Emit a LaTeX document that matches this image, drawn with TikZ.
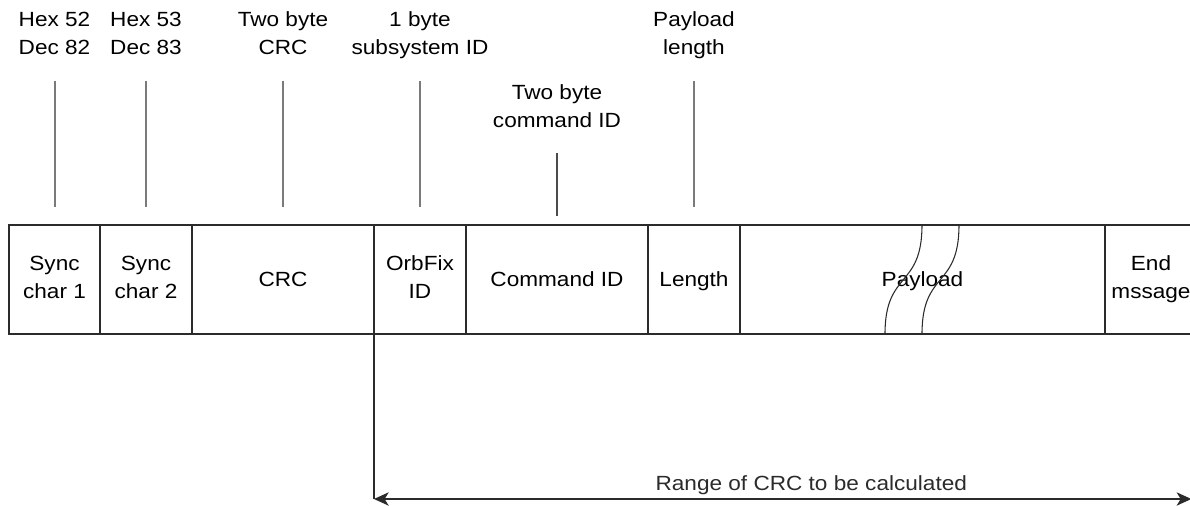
\documentclass[tikz,border=0pt]{standalone}
\usepackage{fontspec}
\setmainfont{Liberation Sans}[FakeStretch=1.1]
\usetikzlibrary{arrows.meta,positioning}
\definecolor{FrameLine}{HTML}{2B2B2B}
\definecolor{TickLine}{HTML}{7A7A7A}

\begin{document}
\begin{tikzpicture}[x=1pt,y=-1pt,node distance=0pt,font=\fontsize{15.4}{21}\selectfont]
    \tikzset{field/.style={draw=FrameLine,line width=1pt,minimum height=81.75pt,inner sep=0pt,
      outer sep=0pt,align=center,execute at begin node={\rule[-4pt]{0pt}{18pt}}},
      note/.style={align=center,inner sep=0pt,execute at end node={\rule[-4pt]{0pt}{0pt}}},
      tick/.style={draw=TickLine,line width=1.5pt},
      breakline/.style={draw=FrameLine,line width=0.8pt}}
    \useasboundingbox (0,0) rectangle (892.5,379.5);
    \node[field,minimum width=68.25pt] (s1) at (40.875,209.625) {Sync\\char 1};
    \node[field,minimum width=69pt,right=of s1] (s2) {Sync\\char 2};
    \node[field,minimum width=136.5pt,right=of s2] (crc) {CRC};
    \node[field,minimum width=69pt,right=of crc] (orb) {OrbFix\\ID};
    \node[field,minimum width=136.5pt,right=of orb] (cmd) {Command ID};
    \node[field,minimum width=69pt,right=of cmd] (len) {Length};
    \node[field,minimum width=273.75pt,right=of len] (pay) {Payload};
    \node[field,minimum width=69pt,right=of pay] (end) {End\\mssage};
    \foreach \bx in {663.75,691.5}
      \draw[breakline] (\bx,250.5) .. controls +(0,-48) and +(0,48) .. (\bx+27.75,168.75);

    \coordinate (row) at (0,27.15);
    \node[note] (h1) at (s1 |- row) {Hex 52\\Dec 82};
    \node[note] (h2) at (s2 |- row) {Hex 53\\Dec 83};
    \node[note] (hcrc) at (crc |- row) {Two byte\\CRC};
    \node[note] (horb) at (orb |- row) {1 byte\\subsystem ID};
    \node[note] (hlen) at (len |- row) {Payload\\length};
    \node[note] (hcmd) at ([yshift=-54.5pt]cmd |- row) {Two byte\\command ID};
    \foreach \a/\b in {h1/s1,h2/s2,hcrc/crc,horb/orb,hlen/len}
      \draw[tick,shorten <=15.5pt,shorten >=13.5pt] (\a.south) -- (\b.north);
    \draw[tick,draw=FrameLine!85,shorten <=15pt,shorten >=6.75pt] (hcmd.south) -- (cmd.north);

    \coordinate (rl) at (orb.south west |- 0,374.25);
    \coordinate (rr) at (893.5,374.25);
    \draw[FrameLine,line width=1pt] (orb.south west) -- (rl);
    \draw[FrameLine,line width=1pt,{Stealth[length=11pt,width=10pt,inset=3pt]}-{Stealth[length=11pt,width=10pt,inset=3pt]}]
      (rl) -- (rr) node[note,pos=0.535,above=2pt] (range) {Range of CRC to be calculated};
  \end{tikzpicture}
\end{document}
